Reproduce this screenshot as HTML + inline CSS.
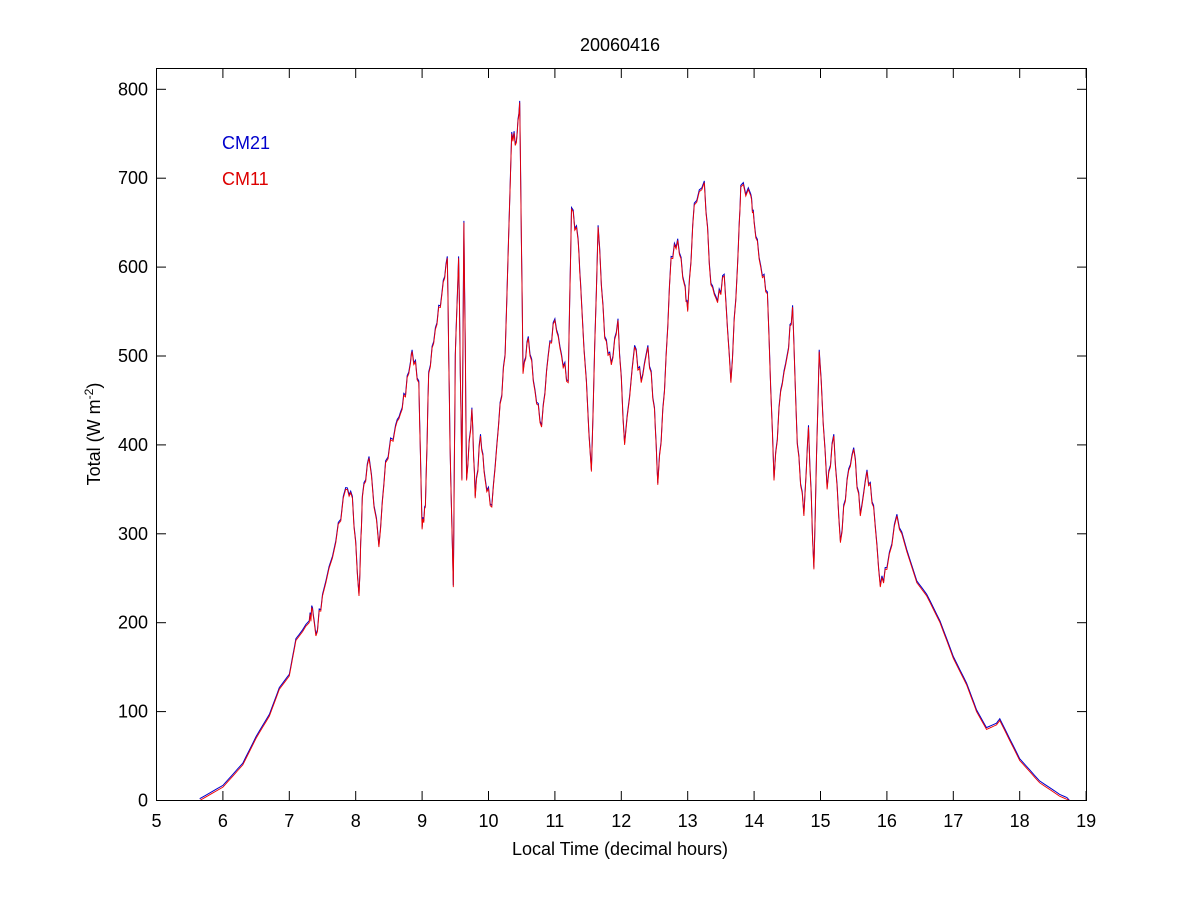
<!DOCTYPE html>
<html><head><meta charset="utf-8"><style>
body{margin:0;background:#fff;}
svg text{font-family:"Liberation Sans",Arial,sans-serif;font-size:18px;fill:#000;}
</style></head><body>
<svg id="s" width="1200" height="900" xmlns="http://www.w3.org/2000/svg">
<rect x="0" y="0" width="1200" height="900" fill="#fff"/>
<g id="ticks"></g>
<polyline id="b" fill="none" stroke="#0000cc" stroke-width="1"/>
<polyline id="r" fill="none" stroke="#ee0000" stroke-width="0.9"/>
<rect x="156.5" y="68.5" width="930" height="732" fill="none" stroke="#000" stroke-width="1"/>
<text x="620" y="51" text-anchor="middle">20060416</text>
<text x="620" y="855" text-anchor="middle">Local Time (decimal hours)</text>
<text transform="translate(100,434) rotate(-90)" text-anchor="middle">Total (W m<tspan dy="-7" font-size="12">-2</tspan><tspan dy="7">)</tspan></text>
<text x="222" y="149" style="fill:#0000cc">CM21</text>
<text x="222" y="185" style="fill:#dd0000">CM11</text>
</svg>
<script>
var X=t=>156.5+66.4*(t-5), Y=v=>800.5-0.889*v;
var g=document.getElementById('ticks'),h='';
for(var t=5;t<=19;t++){var x=X(t);h+='<line x1="'+x+'" y1="800.5" x2="'+x+'" y2="791" stroke="#000"/><line x1="'+x+'" y1="68.5" x2="'+x+'" y2="78" stroke="#000"/><text x="'+x+'" y="827" text-anchor="middle">'+t+'</text>';}
for(var v=0;v<=800;v+=100){var y=Y(v);h+='<line x1="156.5" y1="'+y+'" x2="166" y2="'+y+'" stroke="#000"/><line x1="1086.5" y1="'+y+'" x2="1077" y2="'+y+'" stroke="#000"/><text x="148" y="'+(y+6)+'" text-anchor="end">'+v+'</text>';}
g.innerHTML=h;
var d=[5.65,0,6.0,15,6.3,40,6.5,70,6.7,95,6.85,125,7.0,140,7.1,180,7.3,200,7.35,215,7.4,185,7.5,230,7.7,290,7.85,350,7.95,340,8.05,230,8.1,340,8.2,385,8.35,285,8.45,380,8.6,420,8.7,440,8.8,480,8.85,505,8.95,470,9.0,305,9.05,330,9.1,480,9.2,530,9.3,570,9.38,610,9.42,400,9.47,240,9.5,500,9.55,610,9.6,360,9.63,650,9.67,360,9.75,440,9.8,340,9.88,410,9.95,360,10.05,330,10.15,420,10.25,500,10.35,750,10.42,740,10.47,785,10.52,480,10.6,520,10.7,460,10.8,420,10.9,500,11.0,540,11.1,500,11.2,470,11.25,665,11.35,630,11.4,560,11.55,370,11.65,645,11.75,520,11.85,490,11.95,540,12.05,400,12.2,510,12.3,470,12.4,510,12.5,440,12.55,355,12.65,460,12.75,610,12.85,630,12.95,580,13.0,550,13.1,670,13.25,695,13.35,580,13.45,560,13.55,590,13.65,470,13.75,600,13.8,690,13.95,680,14.0,650,14.1,600,14.2,570,14.3,360,14.4,460,14.5,500,14.58,555,14.65,400,14.75,320,14.82,420,14.9,260,14.98,505,15.1,350,15.2,410,15.3,290,15.4,360,15.5,395,15.6,320,15.7,370,15.8,330,15.9,240,16.0,260,16.15,320,16.3,280,16.45,245,16.6,230,16.8,200,17.0,160,17.2,130,17.35,100,17.5,80,17.65,85,17.7,90,17.8,75,18.0,45,18.3,20,18.6,5,18.75,0];
var p='',q='';
for(var i=0;i<d.length;i+=2){var t=d[i],v=d[i+1];
 if(i+2<d.length){var t2=d[i+2],v2=d[i+3];for(var k=0;k<4;k++){var f=k/4,tt=t+(t2-t)*f,vv=v+(v2-v)*f+(tt>7.2&&tt<16.2&&k>0?(Math.sin(i*7+k*3)*6):0);p+=X(tt).toFixed(1)+','+Y(vv).toFixed(1)+' ';q+=X(tt).toFixed(1)+','+Y(vv+2).toFixed(1)+' ';}}
 else{p+=X(t)+','+Y(v)+' ';q+=X(t)+','+Y(v)+' ';}}
document.getElementById('b').setAttribute('points',q);
document.getElementById('r').setAttribute('points',p);
</script>
</body></html>
